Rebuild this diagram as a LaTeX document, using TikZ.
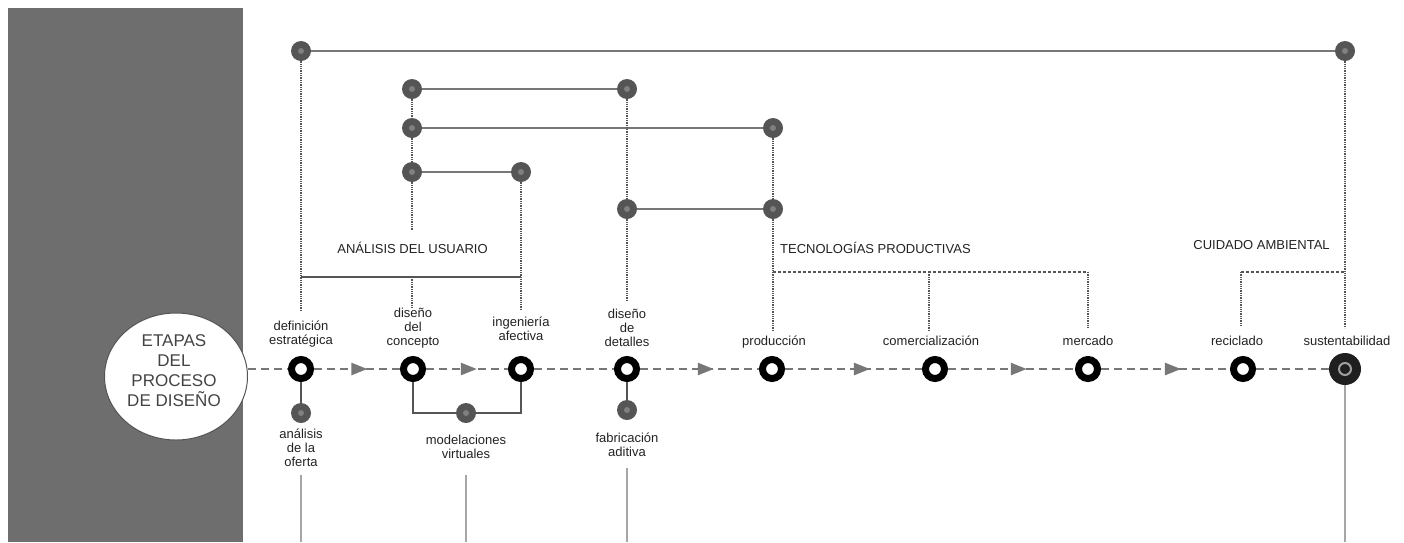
\documentclass[tikz,border=0pt]{standalone}
\usepackage{fontspec}
\setmainfont{Liberation Sans}
\usetikzlibrary{arrows.meta,shapes.geometric,decorations.markings}
\definecolor{panel}{HTML}{6E6E6E}
\definecolor{blob}{HTML}{555555}
\definecolor{blobcore}{HTML}{808080}
\definecolor{wire}{HTML}{777777}
\definecolor{ink}{HTML}{222222}
\begin{document}
\begin{tikzpicture}[x=1pt,y=-1pt,
	ring/.style={circle,draw=black,line width=7pt,fill=white,minimum size=19pt,inner sep=0},
	blob/.style={circle,fill=blob,minimum size=20pt,inner sep=0,
		path picture={\fill[blobcore] (path picture bounding box.center) circle (3pt);}},
	goal/.style={circle,fill=black!88,minimum size=32pt,inner sep=0,
		path picture={\draw[gray!75,line width=2pt] (path picture bounding box.center) circle (6pt);}},
	lbl/.style={anchor=base,align=center,inner sep=0,text=ink,font=\fontsize{13}{14}\selectfont},
	grouplbl/.style={anchor=base,inner sep=0,text=ink,font=\fontsize{13}{13}\selectfont},
	flow/.style={draw=wire,line width=2.5pt,dash pattern=on 8pt off 5pt},
	fwd/.style={flow,postaction={decorate},decoration={markings,
		mark=at position .62 with {\arrow[wire]{Triangle[length=16pt,width=12pt]}}}},
	link/.style={draw=wire,line width=2.2pt},
	stem/.style={draw=blob,line width=2pt},
	dots/.style={draw=blob,line width=1.3pt,densely dotted},
	dashes/.style={draw=blob,line width=1.3pt,densely dashed},
	foot/.style={draw=gray!70,line width=2pt}]
	\useasboundingbox (0,0) rectangle (1404,542);
	\coordinate (floor) at (0,542);
	\fill[panel] (8,8) rectangle (243,542);
	\node[ellipse,draw=blob,line width=1pt,fill=white,minimum width=143pt,minimum height=127pt] (etapas) at (176,376.5) {};
	\node[anchor=base,align=center,inner sep=0,text=ink!85,font=\fontsize{17}{20}\selectfont] (lEta) at (174,406) {ETAPAS\\DEL\\PROCESO\\DE DISEÑO};
	% etapas
	\node[ring] (def) at (301,369) {};
	\node[ring] (con) at (413,369) {};
	\node[ring] (ing) at (521,369) {};
	\node[ring] (det) at (627,369) {};
	\node[ring] (pro) at (772,369) {};
	\node[ring] (com) at (935,369) {};
	\node[ring] (mer) at (1088,369) {};
	\node[ring] (rec) at (1243,369) {};
	\node[goal] (sus) at (1345,369) {};
	\node[lbl] (lDef) at (301,344) {definición\\estratégica};
	\node[lbl] (lCon) at (413,345) {diseño\\del\\concepto};
	\node[lbl] (lIng) at (521,340) {ingeniería\\afectiva};
	\node[lbl] (lDet) at (627,346.5) {diseño\\de\\detalles};
	\node[lbl] (lPro) at (774,345) {producción};
	\node[lbl] (lCom) at (931,345) {comercialización};
	\node[lbl] (lMer) at (1088,345) {mercado};
	\node[lbl] (lRec) at (1237,345) {reciclado};
	\node[lbl] (lSus) at (1347,345) {sustentabilidad};
	% abajo
	\node[blob] (ofe) at (301,413) {};
	\node[blob] (mod) at (466,413) {};
	\node[blob] (fab) at (627,410) {};
	\node[lbl] (lOfe) at (301,466.5) {análisis\\de la\\oferta};
	\node[lbl] (lMod) at (466,458.5) {modelaciones\\virtuales};
	\node[lbl] (lFab) at (627,456) {fabricación\\aditiva};
	% arriba
	\node[blob] (t0) at (301,51) {};
	\node[blob] (t9) at (1345,51) {};
	\node[blob] (u1) at (412,89) {};
	\node[blob] (d1) at (627,89) {};
	\node[blob] (u2) at (412,128) {};
	\node[blob] (p1) at (773,128) {};
	\node[blob] (u3) at (412,172) {};
	\node[blob] (i1) at (521,172) {};
	\node[blob] (d2) at (627,209) {};
	\node[blob] (p2) at (773,209) {};
	\node[grouplbl] (lUsu) at (412.5,253) {ANÁLISIS DEL USUARIO};
	\node[grouplbl,anchor=base west] (lTec) at (780,253) {TECNOLOGÍAS PRODUCTIVAS};
	\node[grouplbl] (lCui) at (1261.5,249.5) {CUIDADO AMBIENTAL};
	\coordinate (bL) at (301,277);
	\coordinate (bM) at (412,277);
	\coordinate (bR) at (521,277);
	\coordinate (tL) at (773,272);
	\coordinate (tM) at (929,272);
	\coordinate (tR) at (1088,272);
	\coordinate (cL) at (1241,272);
	\coordinate (cR) at (1345,272);
	\draw[link] (t0) -- (t9);
	\draw[link] (u1) -- (d1);
	\draw[link] (u2) -- (p1);
	\draw[link] (u3) -- (i1);
	\draw[link] (d2) -- (p2);
	\draw[dots] (t0) -- (bL) -- ++(0,33);
	\draw[dots] (u1) -- (u2) -- (u3) -- ++(0,58);
	\draw[dots] (bM) -- ++(0,31);
	\draw[stem,line width=1.5pt] (bL) -- (bR);
	\draw[dots] (i1) -- (bR) -- ++(0,33);
	\draw[dots] (d1) -- (d2) -- ++(0,91);
	\draw[dots] (p1) -- (p2) -- (tL) -- ++(0,58);
	\draw[dashes] (tL) -- (tR);
	\draw[dots] (tR) -- ++(0,56);
	\draw[dots] (tM) -- ++(0,59);
	\draw[dashes] (cL) -- (cR);
	\draw[dots] (cL) -- ++(0,55);
	\draw[dots] (t9) -- ++(0,277);
	% flujo
	\draw[flow] (etapas.east |- def) -- (def);
	\draw[fwd] (def) -- (con);
	\draw[fwd] (con) -- (ing);
	\draw[flow] (ing) -- (det);
	\draw[fwd] (det) -- (pro);
	\draw[fwd] (pro) -- (com);
	\draw[fwd] (com) -- (mer);
	\draw[fwd] (mer) -- (rec);
	\draw[flow] (rec) -- (sus);
	\draw[stem] (def) -- (ofe);
	\draw[stem] (det) -- (fab);
	\draw[stem] (con) |- (mod) -| (ing);
	\draw[foot] (lOfe.south) ++(0,8) -- (lOfe.south |- floor);
	\draw[foot] (lMod.south) ++(0,16) -- (lMod.south |- floor);
	\draw[foot] (lFab.south) ++(0,12) -- (lFab.south |- floor);
	\draw[foot] (sus) -- (sus |- floor);
\end{tikzpicture}
\end{document}
